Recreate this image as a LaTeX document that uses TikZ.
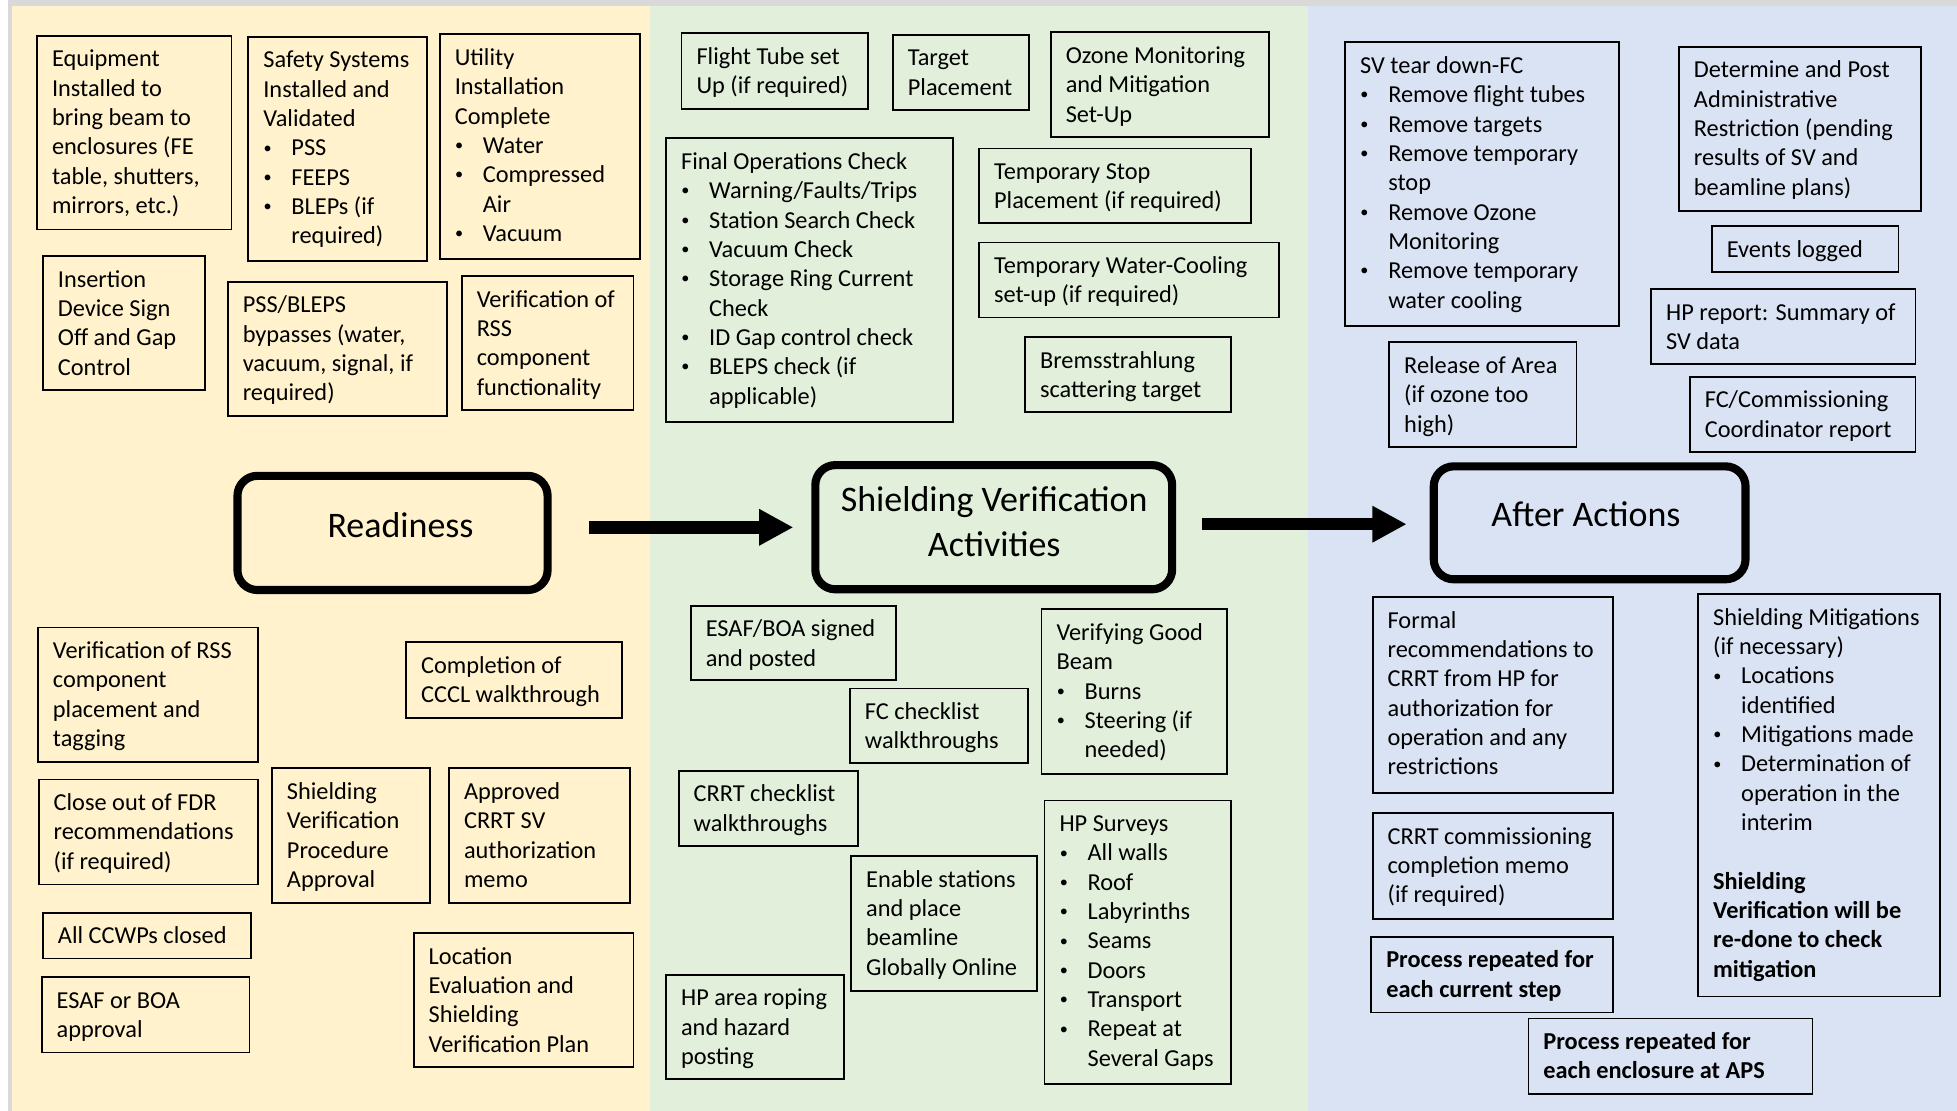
\documentclass[tikz,border=0pt]{standalone}
\usepackage{fontspec}
\setmainfont{Carlito}
\usetikzlibrary{arrows.meta,calc}
\definecolor{ylw}{HTML}{FFF2CC}
\definecolor{grn}{HTML}{E2EFDA}
\definecolor{blu}{HTML}{DAE3F3}
\definecolor{frm}{HTML}{D9D9D9}
\newcommand{\bodyfont}{\fontsize{19.5}{23.5}\selectfont}
\newcommand{\titlefont}{\fontsize{28.8}{36}\selectfont}
\newcommand{\blt}{\makebox[22.5pt][l]{\hspace{0.2pt}\raisebox{2.2pt}{\fontsize{13}{13}\selectfont •}}}
\newcommand{\bcn}{\hspace*{22.5pt}}
\tikzset{
  bx/.style={draw=black, line width=1.4pt, rectangle, inner sep=0pt, outer sep=0pt, anchor=north west},
  tx/.style={inner sep=0pt, outer sep=0pt, anchor=north west, align=left, font=\bodyfont},
  ttl/.style={draw=black, line width=6.5pt, rectangle, rounded corners=16pt, inner sep=0pt, outer sep=0pt, anchor=north west},
  ttltx/.style={inner sep=0pt, outer sep=0pt, font=\titlefont, align=center},
  bigarrow/.style={line width=10pt, -{Triangle[length=27.5pt,width=27.5pt]}}
}
\newcommand{\mybox}[6]{%
  \node[bx, minimum width={#4-#2}, minimum height={#5-#3}] (#1) at (#2,#3) {};
  \node[tx] (#1-t) at (#2+12,#3+8.9) {\rule{0pt}{16pt}#6};
}
\begin{document}
\begin{tikzpicture}[x=1pt,y=-1pt]
\useasboundingbox (0,0) rectangle (1568,890);
% background panels
\fill[white] (0,0) rectangle (1568,890);
\fill[frm] (6.7,0) rectangle (1568,890);
\fill[ylw] (9.3,4.5) rectangle (520.8,890);
\fill[grn] (520.8,4.5) rectangle (1048,890);
\fill[blu] (1048,4.5) rectangle (1568,890);

% ---------------- Readiness column ----------------
\mybox{equip}{29.7}{28.6}{185.5}{183.8}{Equipment\\Installed to\\bring beam to\\enclosures (FE\\table, shutters,\\mirrors, etc.)}
\mybox{safety}{199}{29.4}{342.3}{208.9}{Safety Systems\\Installed and\\Validated\\\blt PSS\\\blt FEEPS\\\blt BLEPs (if\\\bcn required)}
\mybox{utility}{352.4}{27.5}{512.6}{207.3}{Utility\\Installation\\Complete\\\blt Water\\\blt Compressed\\\bcn Air\\\blt Vacuum}
\mybox{insertion}{34.4}{205.1}{164.2}{312.5}{Insertion\\Device Sign\\Off and Gap\\Control}
\mybox{pssbleps}{182.5}{225.7}{358.2}{333.3}{PSS/BLEPS\\bypasses (water,\\vacuum, signal, if\\required)}
\mybox{verfunc}{370}{221.2}{507.5}{328.5}{Verification of\\RSS\\component\\functionality}

\node[ttl, minimum width=248.5, minimum height=91.5] (ready) at (190.25,381.25) {};
\node[ttltx, anchor=base] (ready-t) at (320.9,430.6) {Readiness};

\mybox{verplace}{30.4}{502.7}{206.7}{610.3}{Verification of RSS\\component\\placement and\\tagging}
\mybox{cccl}{325.4}{514.4}{498.1}{575}{Completion of\\CCCL walkthrough}
\mybox{fdr}{31}{624.5}{206.7}{708.6}{Close out of FDR\\recommendations\\(if required)}
\mybox{svproc}{217.9}{615.6}{344.7}{723.3}{Shielding\\Verification\\Procedure\\Approval}
\mybox{approved}{359.8}{615.6}{504.8}{723.3}{Approved\\CRRT SV\\authorization\\memo}
\mybox{ccwp}{34.4}{731.3}{201}{767.9}{All CCWPs closed}
\mybox{esafboa}{33.4}{782.9}{200}{843.2}{ESAF or BOA\\approval}
\mybox{location}{331.5}{747.6}{507.5}{855.2}{Location\\Evaluation and\\Shielding\\Verification Plan}

% ---------------- Shielding Verification column ----------------
\mybox{flight}{546.1}{26.7}{695.2}{87.3}{Flight Tube set\\Up (if required)}
\mybox{target}{715.4}{27.8}{824.4}{88.1}{Target\\Placement}
\mybox{ozone}{841.9}{25.9}{1016.6}{110}{Ozone Monitoring\\and Mitigation\\Set-Up}
\mybox{finalops}{533.7}{110.8}{763.6}{337.9}{Final Operations Check\\\blt Warning/Faults/Trips\\\blt Station Search Check\\\blt Vacuum Check\\\blt Storage Ring Current\\\bcn Check\\\blt ID Gap control check\\\blt BLEPS check (if\\\bcn applicable)}
\mybox{tempstop}{784.5}{118.9}{1002.4}{178.9}{Temporary Stop\\Placement (if required)}
\mybox{tempwater}{784.5}{194.2}{1025}{254.3}{Temporary Water-Cooling\\set-up (if required)}
\mybox{brems}{821.3}{270.3}{986.2}{329.9}{Bremsstrahlung\\scattering target}

\node[ttl, minimum width=285.9, minimum height=99.5] (sva) at (653.25,372.65) {};
\node[ttltx, anchor=north] (sva-t) at (796.6,386) {\rule{0pt}{24pt}Shielding Verification\\Activities};

\mybox{esafsigned}{553.5}{485.3}{718.1}{544.9}{ESAF/BOA signed\\and posted}
\mybox{fcwalk}{681}{551.6}{823.6}{611.6}{FC checklist\\walkthroughs}
\mybox{goodbeam}{834.5}{488.2}{982.9}{620.2}{Verifying Good\\Beam\\\blt Burns\\\blt Steering (if\\\bcn needed)}
\mybox{crrtwalk}{543.8}{617.5}{687.4}{677.9}{CRRT checklist\\walkthroughs}
\mybox{enable}{682}{685.9}{831.1}{794.1}{Enable stations\\and place\\beamline\\Globally Online}
\mybox{hpsurvey}{836.9}{641.3}{986.2}{868.8}{HP Surveys\\\blt All walls\\\blt Roof\\\blt Labyrinths\\\blt Seams\\\blt Doors\\\blt Transport\\\blt Repeat at\\\bcn Several Gaps}
\mybox{roping}{533.7}{781}{676.3}{864.8}{HP area roping\\and hazard\\posting}

% ---------------- After Actions column ----------------
\mybox{teardown}{1077.8}{33.9}{1297}{261}{SV tear down-FC\\\blt Remove flight tubes\\\blt Remove targets\\\blt Remove temporary\\\bcn stop\\\blt Remove Ozone\\\bcn Monitoring\\\blt Remove temporary\\\bcn water cooling}
\mybox{determine}{1345.2}{37.4}{1539.1}{168.8}{Determine and Post\\Administrative\\Restriction (pending\\results of SV and\\beamline plans)}
\mybox{events}{1371.5}{181.1}{1521.2}{217.7}{Events logged}
\mybox{hpreport}{1322.9}{231.6}{1534.7}{291.9}{HP report: Summary of\\SV data}
\mybox{fccoord}{1353.9}{301.8}{1534.7}{361.9}{FC/Commissioning\\Coordinator report}
\mybox{release}{1113.1}{274.3}{1263.2}{358.4}{Release of Area\\(if ozone too\\high)}

\node[ttl, minimum width=249.8, minimum height=90.5] (after) at (1148.75,373.65) {};
\node[ttltx, anchor=base] (after-t) at (1270.7,422) {After Actions};

\mybox{formal}{1099.8}{478.3}{1292.5}{635.2}{Formal\\recommendations to\\CRRT from HP for\\authorization for\\operation and any\\restrictions}
\mybox{crrtmemo}{1099.8}{651.4}{1292.5}{736.1}{CRRT commissioning\\completion memo\\(if required)}
\mybox{repstep}{1098.7}{750.5}{1292.5}{811.2}{\textbf{Process repeated for}\\\textbf{each current step}}
\mybox{mitig}{1360.6}{476.1}{1554.6}{798.5}{Shielding Mitigations\\(if necessary)\\\blt Locations\\\bcn identified\\\blt Mitigations made\\\blt Determination of\\\bcn operation in the\\\bcn interim\\[23.5pt]\textbf{Shielding}\\\textbf{Verification will be}\\\textbf{re-done to check}\\\textbf{mitigation}}
\mybox{repencl}{1224.6}{816.1}{1452.2}{876.6}{\textbf{Process repeated for}\\\textbf{each enclosure at APS}}

% ---------------- arrows ----------------
\draw[bigarrow] ($(ready.east)+(33,-4.5)$) -- ($(sva.west)+(-17.6,0.1)$);
\draw[bigarrow] ($(sva.east)+(23.8,-2.4)$) -- ($(after.west)+(-21.7,1.1)$);
\end{tikzpicture}
\end{document}
